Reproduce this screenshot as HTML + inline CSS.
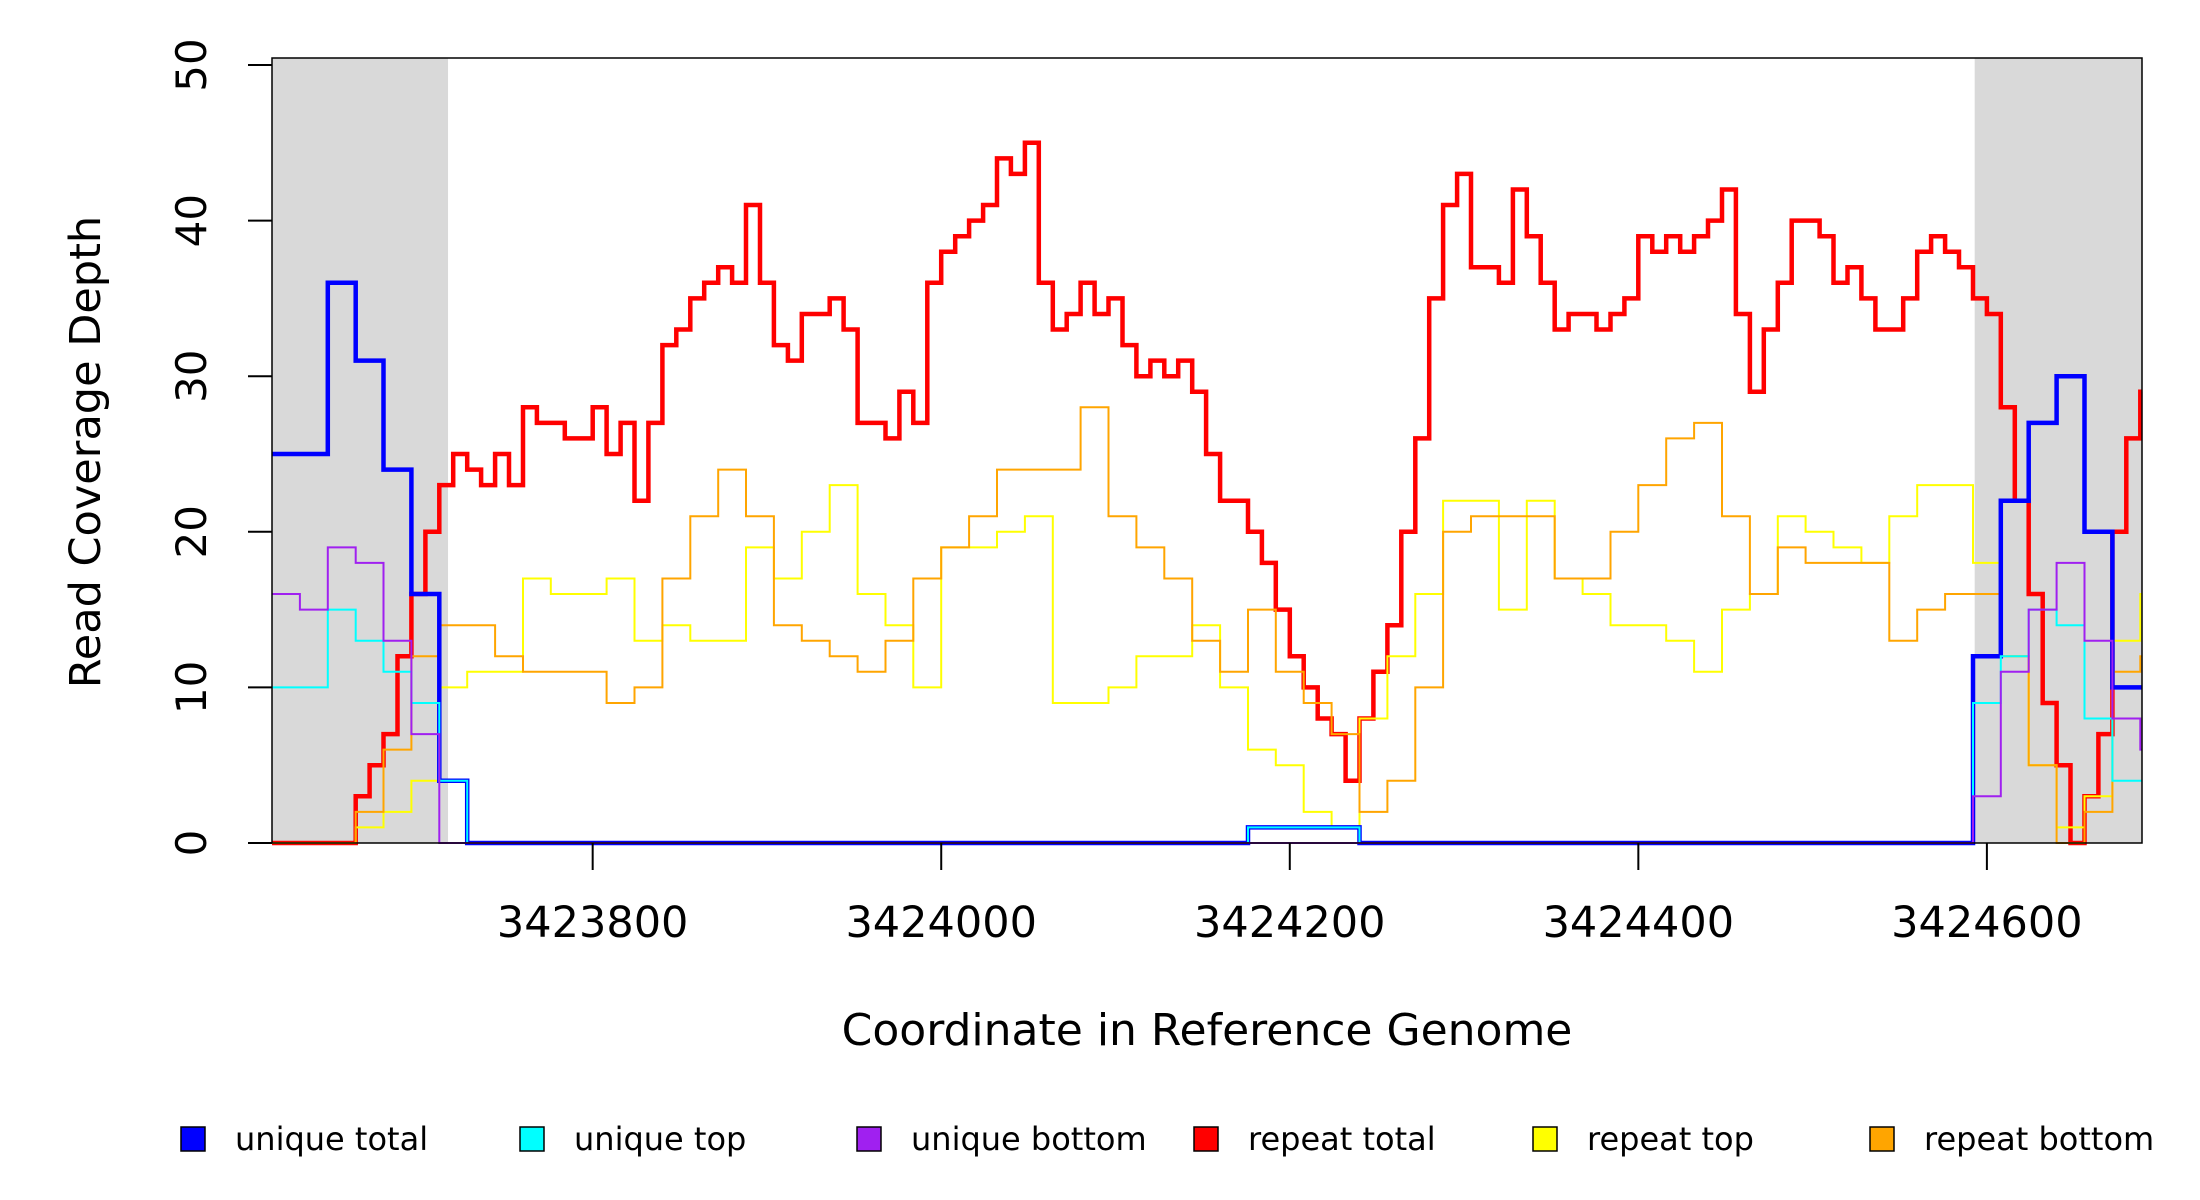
<!DOCTYPE html>
<html><head><meta charset="utf-8"><style>
body{margin:0;background:#fff}
svg{display:block;font-family:"DejaVu Sans","Liberation Sans",sans-serif}
</style></head><body>
<svg id="chart" width="2200" height="1200" viewBox="0 0 2200 1200" xmlns="http://www.w3.org/2000/svg">
<g id="bg"></g><g id="series"></g><g id="axes"></g><g id="legend"></g>
</svg>
<script>
const xStart = 3423616;
const xEnd = 3424689;
const thickStep = 8;
const thinStep = 16;
const xTicks = [3423800, 3424000, 3424200, 3424400, 3424600];
const yTicks = [0, 10, 20, 30, 40, 50];
const grayRegions = [[3423616, 3423717], [3424593, 3424689]];
const repeatTotal = [0,0,0,0,0,0,3,5,7,12,16,20,23,25,24,23,25,23,28,27,27,26,26,28,25,27,22,27,32,33,35,36,37,36,41,36,32,31,34,34,35,33,27,27,26,29,27,36,38,39,40,41,44,43,45,36,33,34,36,34,35,32,30,31,30,31,29,25,22,22,20,18,15,12,10,8,7,4,8,11,14,20,26,35,41,43,37,37,36,42,39,36,33,34,34,33,34,35,39,38,39,38,39,40,42,34,29,33,36,40,40,39,36,37,35,33,33,35,38,39,38,37,35,34,28,22,16,9,5,0,3,7,20,26,29];
const uniqueTotal = [25,25,36,31,24,16,4,0,0,0,0,0,0,0,0,0,0,0,0,0,0,0,0,0,0,0,0,0,0,0,0,0,0,0,0,1,1,1,1,0,0,0,0,0,0,0,0,0,0,0,0,0,0,0,0,0,0,0,0,0,0,12,22,27,30,20,10,10];
const uniqueTop = [10,10,15,13,11,9,4,0,0,0,0,0,0,0,0,0,0,0,0,0,0,0,0,0,0,0,0,0,0,0,0,0,0,0,0,1,1,1,1,0,0,0,0,0,0,0,0,0,0,0,0,0,0,0,0,0,0,0,0,0,0,9,12,15,14,8,4,4];
const uniqueBottom = [16,15,19,18,13,7,0,0,0,0,0,0,0,0,0,0,0,0,0,0,0,0,0,0,0,0,0,0,0,0,0,0,0,0,0,0,0,0,0,0,0,0,0,0,0,0,0,0,0,0,0,0,0,0,0,0,0,0,0,0,0,3,11,15,18,13,8,6];
const repeatTop = [0,0,0,1,2,4,10,11,11,17,16,16,17,13,14,13,13,19,17,20,23,16,14,10,19,19,20,21,9,9,10,12,12,14,10,6,5,2,1,8,12,16,22,22,15,22,17,16,14,14,13,11,15,16,21,20,19,18,21,23,23,18,12,5,1,3,13,16];
const repeatBottom = [0,0,0,2,6,12,14,14,12,11,11,11,9,10,17,21,24,21,14,13,12,11,13,17,19,21,24,24,24,28,21,19,17,13,11,15,11,9,7,2,4,10,20,21,21,21,17,17,20,23,26,27,21,16,19,18,18,18,13,15,16,16,12,5,0,2,11,12];

const L=272,R=2142,T=58,B=843,Y50=65,yMax=50;
const xs=v=>L+(v-xStart)/(xEnd-xStart)*(R-L);
const ys=v=>B-v/yMax*(B-Y50);
const NS="http://www.w3.org/2000/svg";
function mk(tag,attrs,parent){const e=document.createElementNS(NS,tag);for(const k in attrs)e.setAttribute(k,attrs[k]);parent.appendChild(e);return e;}

const bg=document.getElementById('bg');
grayRegions.forEach(r=>{
  const e=mk('rect',{x:xs(r[0]),y:T,width:xs(r[1])-xs(r[0]),height:B-T,fill:'#d9d9d9'},bg);
  
  
});

function stepPath(vals,step){
  let d='';
  for(let i=0;i<vals.length;i++){
    const x0=Math.min(xs(xStart+i*step),R),x1=Math.min(xs(xStart+(i+1)*step),R);
    const y=ys(vals[i]);
    d+=(i===0?'M':'L')+x0.toFixed(1)+','+y.toFixed(1)+'L'+x1.toFixed(1)+','+y.toFixed(1);
  }
  return d;
}
const sg=document.getElementById('series');
const seriesDefs=[
 ['repeat-total-line',repeatTotal,thickStep,'#ff0000',4.5],
 ['repeat-top-line',repeatTop,thinStep,'#ffff00',2],
 ['repeat-bottom-line',repeatBottom,thinStep,'#ffa500',2],
 ['unique-total-line',uniqueTotal,thinStep,'#0000ff',4.5],
 ['unique-top-line',uniqueTop,thinStep,'#00ffff',2],
 ['unique-bottom-line',uniqueBottom,thinStep,'#a020f0',2]
];
seriesDefs.forEach(s=>{
  const p=mk('path',{d:stepPath(s[1],s[2]),fill:'none',stroke:s[3],'stroke-width':s[4],'stroke-linejoin':'miter'},sg);
  
  
});

const ax=document.getElementById('axes');
const box=mk('rect',{x:L,y:T,width:R-L,height:B-T,fill:'none',stroke:'#000','stroke-width':1.5},ax);


yTicks.forEach(v=>{
  const t=mk('line',{x1:248,x2:L,y1:ys(v),y2:ys(v),stroke:'#000','stroke-width':2},ax);
  
  
  const tx=mk('text',{x:0,y:0,transform:'translate(206,'+ys(v)+') rotate(-90)','text-anchor':'middle','font-size':42},ax);
  tx.textContent=v;
  
  
});
xTicks.forEach(v=>{
  const t=mk('line',{x1:xs(v),x2:xs(v),y1:B,y2:870,stroke:'#000','stroke-width':2},ax);
  
  
  const tx=mk('text',{x:xs(v),y:937,'text-anchor':'middle','font-size':43},ax);
  tx.textContent=v;
  
  
});
const xt=mk('text',{x:1207,y:1045,'text-anchor':'middle','font-size':44},ax);
xt.textContent='Coordinate in Reference Genome';


const yt=mk('text',{x:0,y:0,transform:'translate(100,452) rotate(-90)','text-anchor':'middle','font-size':43},ax);
yt.textContent='Read Coverage Depth';



const lg=document.getElementById('legend');
const legendLabels=['unique total','unique top','unique bottom','repeat total','repeat top','repeat bottom'];
const legendColors=['#0000ff','#00ffff','#a020f0','#ff0000','#ffff00','#ffa500'];
const legendX=[181,520,857,1194,1533,1870];
legendLabels.forEach((lab,i)=>{
  const g=mk('g',{},lg);
  
  
  const r=mk('rect',{x:legendX[i],y:1127,width:24,height:24,fill:legendColors[i],stroke:'#000','stroke-width':1.5},g);
  
  
  const t=mk('text',{x:legendX[i]+54,y:1150,'font-size':32},g);
  t.textContent=lab;
  
  
});
</script>
</body></html>
